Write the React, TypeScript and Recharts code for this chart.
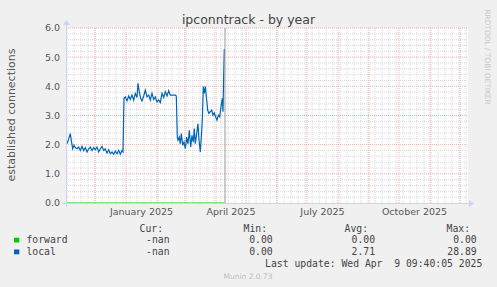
import { LineChart, Line, XAxis, YAxis, ReferenceLine } from 'recharts'

// days counted from 1 Nov 2024
const days = [
  2, 3.7, 5.3, 6.3, 7.7, 9, 10.3, 12, 13.7, 15.3, 17, 18.7, 20.3, 22, 23.7, 25.3, 27, 28.7,
  30.3, 32, 33.7, 35.3, 37, 38.7, 40.3, 42, 43.7, 45.3, 47, 48.7, 50.3, 52, 53.7, 55.3, 57, 58,
  59, 60.3, 62, 63.7, 65.3, 67, 68.7, 70.3, 72, 73, 74.3, 75.7, 77, 78.7, 80.3, 82, 83.7, 85.3,
  87, 88.7, 90.3, 92, 93.7, 95.3, 97, 98.7, 100.3, 102, 103.7, 105.3, 107, 108.7, 110.3, 111.3,
  112.3, 113, 114.3, 115.3, 116.3, 117.7, 119, 120.3, 121.7, 123, 124.3, 125.7, 127, 128.3,
  129.3, 130.3, 131.7, 133, 134, 135.3, 136.3, 137.3, 138.3, 139.3, 140.3, 141.7, 142.7, 144,
  145.3, 146.7, 148, 149.3, 150.7, 152, 153.3, 154.7, 156, 157.3, 158, 158.7, 159.3,
]
const local = [
  2.03, 2.2, 2.38, 2.15, 1.86, 1.98, 1.9, 1.86, 1.92, 1.8, 1.94, 1.8, 1.9, 1.75, 1.86, 1.92, 1.8, 1.9,
  1.83, 1.92, 1.75, 1.86, 1.94, 1.8, 1.86, 1.71, 1.83, 1.69, 1.75, 1.67, 1.78, 1.69, 1.8, 1.67, 1.8, 1.75,
  3.59, 3.64, 3.5, 3.67, 3.55, 3.7, 3.53, 3.76, 3.62, 4.1, 3.82, 3.59, 3.5, 3.67, 3.87, 3.64, 3.7, 3.53,
  3.76, 3.55, 3.64, 3.47, 3.53, 3.44, 3.76, 3.62, 3.82, 3.67, 3.85, 3.7, 3.7, 3.7, 3.7, 3.67,
  2.26, 2.15, 2.26, 2.03, 2.38, 1.98, 2.09, 1.86, 2.26, 2.03, 2.49, 1.92, 2.32, 2.09,
  2.55, 2.03, 2.38, 2.72, 2.15, 1.75, 2.26, 2.84, 3.99, 3.76, 3.99, 3.53, 3.18, 3.07,
  3.13, 3.18, 3.01, 3.09, 2.95, 2.84, 3.01, 2.95, 3.3, 3.59, 3.13, 4.4, 5.28,
]
const forwardDays = [2, 159.3]
const forward = [0, 0]

const yTicks = [0, 1, 2, 3, 4, 5, 6]
const monthStarts = [30, 61, 92, 120, 151, 181, 212, 242, 273, 304, 334, 365, 395]
const labelDays = [76.5, 166, 257.5, 349.5]
const labelTexts = ['January 2025', 'April 2025', 'July 2025', 'October 2025']
const nowDay = 160

const legendRows = [
  { name: 'forward', color: '#00cc00', cur: '-nan', min: '0.00', avg: '0.00', max: '0.00' },
  { name: 'local', color: '#0066b3', cur: '-nan', min: '0.00', avg: '2.71', max: '28.89' },
]

const localData = days.map((d, i) => ({ day: d, local: local[i] }))
const forwardData = forwardDays.map((d, i) => ({ day: d, forward: forward[i] }))

const weekLines: number[] = []
for (let d = 2; d < 403; d += 7) weekLines.push(d)
const minorY: number[] = []
for (let v = 0.2; v < 6; v += 0.2) {
  if (Math.abs(v - Math.round(v)) > 0.01) minorY.push(Math.round(v * 10) / 10)
}

const sans = 'DejaVu Sans, sans-serif'
const mono = 'DejaVu Sans Mono, monospace'
const axisColor = '#cdd3f6'

export default function App() {
  return (
    <div style={{ position: 'absolute', left: 0, top: 0, width: 497, height: 287, background: '#f0f0f0' }}>
      <svg width={497} height={287} style={{ position: 'absolute', left: 0, top: 0 }}>
        <rect x={66} y={28} width={402} height={175} fill="#ffffff" />
      </svg>
      <div style={{ position: 'absolute', left: 0, top: 0 }}>
        <LineChart width={497} height={287} data={localData} margin={{ top: 28, right: 29, bottom: 0, left: 0 }}>
          <XAxis
            dataKey="day"
            type="number"
            domain={[1, 403]}
            allowDataOverflow
            ticks={labelDays}
            interval={0}
            tickFormatter={(v: number) => labelTexts[labelDays.indexOf(v)]}
            axisLine={false}
            tickLine={false}
            tickSize={0}
            tickMargin={5}
            height={84}
            tick={{ fontSize: 9.5, fill: '#555', fontFamily: sans }}
          />
          <YAxis
            type="number"
            domain={[0, 6]}
            ticks={yTicks}
            interval={0}
            tickFormatter={(v: number) => v.toFixed(1)}
            axisLine={false}
            tickLine={false}
            tickSize={0}
            tickMargin={6}
            width={66}
            tick={{ fontSize: 9.5, fill: '#555', fontFamily: sans }}
          />
          {minorY.map((v) => (
            <ReferenceLine key={'my' + v} y={v} stroke="#d8d8d8" strokeDasharray="1 1" />
          ))}
          {weekLines.map((d) => (
            <ReferenceLine key={'wx' + d} x={d} stroke="#d8d8d8" strokeDasharray="1 1" />
          ))}
          {yTicks.slice(1).map((v) => (
            <ReferenceLine key={'My' + v} y={v} stroke="#ebb0b0" strokeDasharray="1 1" />
          ))}
          {monthStarts.map((d) => (
            <ReferenceLine key={'Mx' + d} x={d} stroke="#ebb0b0" strokeDasharray="1 1" />
          ))}
          <Line
            data={forwardData}
            dataKey="forward"
            stroke="#00cc00"
            strokeWidth={1}
            dot={false}
            isAnimationActive={false}
          />
          <Line dataKey="local" stroke="#0066b3" strokeWidth={1.2} dot={false} isAnimationActive={false} />
          <ReferenceLine x={nowDay} stroke="#999" strokeWidth={1} />
        </LineChart>
      </div>
      <svg width={497} height={287} style={{ position: 'absolute', left: 0, top: 0, pointerEvents: 'none' }}>
        {/* axes with arrows */}
        <line x1={62} y1={203.5} x2={470} y2={203.5} stroke={axisColor} />
        <polygon points="469,200 474,203.5 469,207" fill={axisColor} />
        <line x1={66.5} y1={207} x2={66.5} y2={24} stroke={axisColor} />
        <polygon points="63,25 66.5,20 70,25" fill={axisColor} />

        <text x={248.5} y={24} textAnchor="middle" fontSize={12.5} fill="#444" fontFamily={sans}>
          ipconntrack - by year
        </text>
        <text
          transform="translate(15,115) rotate(-90)"
          textAnchor="middle"
          fontSize={11}
          fill="#555"
          fontFamily={sans}
        >
          established connections
        </text>
        <text
          transform="translate(485,57) rotate(90)"
          textAnchor="middle"
          fontSize={7.4}
          fill="#c8c8c8"
          fontFamily={sans}
        >
          RRDTOOL / TOBI OETIKER
        </text>

        <g fontFamily={mono} fontSize={9.75} fill="#444">
          <text x={163} y={232} textAnchor="end">Cur:</text>
          <text x={267} y={232} textAnchor="end">Min:</text>
          <text x={368} y={232} textAnchor="end">Avg:</text>
          <text x={470} y={232} textAnchor="end">Max:</text>
          {legendRows.map((r, i) => {
            const y = 243 + i * 11.8
            return (
              <g key={r.name}>
                <rect x={14} y={y - 5.3} width={5.3} height={4.8} fill={r.color} />
                <text x={26.5} y={y}>{r.name}</text>
                <text x={169.5} y={y} textAnchor="end">{r.cur}</text>
                <text x={272.7} y={y} textAnchor="end">{r.min}</text>
                <text x={375} y={y} textAnchor="end">{r.avg}</text>
                <text x={476.7} y={y} textAnchor="end">{r.max}</text>
              </g>
            )
          })}
          <text x={482.3} y={267} textAnchor="end" style={{ whiteSpace: 'pre' }}>
            {'Last update: Wed Apr  9 09:40:05 2025'}
          </text>
        </g>
        <text x={248} y={279} textAnchor="middle" fontSize={7.5} fill="#bdbdbd" fontFamily={sans}>
          Munin 2.0.73
        </text>
      </svg>
    </div>
  )
}
